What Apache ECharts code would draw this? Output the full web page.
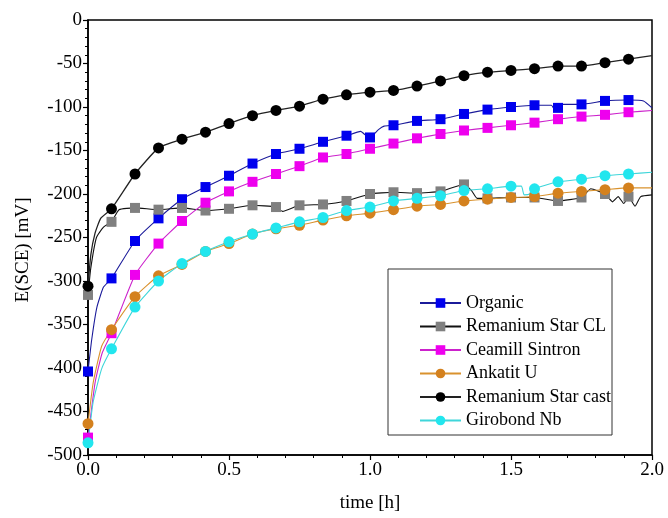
<!DOCTYPE html>
<html>
<head>
<meta charset="utf-8">
<script src="https://cdn.jsdelivr.net/npm/echarts@6/dist/echarts.min.js"></script>
<style>
  html, body { margin: 0; padding: 0; background: #fff; }
  #chart { width: 668px; height: 518px; }
</style>
</head>
<body>
<div id="chart"></div>
<script>
// Open-circuit potential vs SCE, sampled every 5 minutes (markers).
const markerMinutes = [0, 5, 10, 15, 20, 25, 30, 35, 40, 45, 50, 55,
                       60, 65, 70, 75, 80, 85, 90, 95, 100, 105, 110, 115];

const organic = [-404, -297, -254, -228, -206, -192, -179, -165, -154, -148, -140, -133,
                 -135, -121, -116, -114, -108, -103, -100, -98, -101, -97, -93, -92];
const remaniumCL = [-316, -232, -216, -218, -216, -219, -217, -213, -215, -213, -212, -208,
                    -200, -198, -199, -197, -189, -205, -204, -204, -208, -204, -200, -203];
const ceamill = [-480, -360, -293, -257, -231, -210, -197, -186, -177, -168, -158, -154,
                 -148, -142, -136, -131, -127, -124, -121, -118, -114, -111, -109, -106];
const ankatit = [-464, -356, -318, -294, -281, -266, -257, -246, -240, -236, -230, -225,
                 -222, -218, -214, -212, -208, -206, -204, -203, -199, -197, -195, -193];
const remaniumCast = [-306, -217, -177, -147, -137, -129, -119, -110, -104, -99, -91, -86,
                      -83, -81, -76, -70, -64, -60, -58, -56, -53, -53, -49, -45];
const girobond = [-486, -378, -330, -300, -280, -266, -255, -246, -239, -232, -227, -219,
                  -215, -208, -205, -202, -196, -194, -191, -194, -186, -183, -179, -177];

// Recorded trace points between markers: [minute, mV]
const organicTrace = [[0.8, -367], [1.9, -330], [3.3, -307], [58, -128], [59.4, -134],
                      [61.8, -126], [63, -122], [98.6, -98], [99.3, -103], [101, -97],
                      [118.2, -93], [120, -101]];
const remaniumCLTrace = [[0.6, -285], [1.8, -250], [3.3, -238], [6.6, -218], [41.4, -220],
                         [81.6, -196], [82.8, -205], [107, -194], [111.6, -209], [112.8, -203],
                         [114, -211], [116.4, -214], [117.6, -203], [120, -201]];
const ceamillTrace = [[1.5, -417], [3, -383], [120, -104]];
const ankatitTrace = [[1.1, -417], [2.9, -375], [120, -193]];
const remaniumCastTrace = [[0.6, -270], [1.5, -245], [2.7, -228], [120, -41]];
const girobondTrace = [[1.1, -439], [2.9, -401], [92.2, -191], [92.8, -201], [94, -200], [120, -175]];

const xTicks = { min: 0, max: 2, interval: 0.5 };
const yTicks = { min: -500, max: 0, interval: 50 };

// Merge marker samples and trace points into one time-ordered series (hours)
function buildSeriesData(values, trace) {
  const pts = markerMinutes.map((m, i) => ({ value: [m / 60, values[i]], marker: true }));
  trace.forEach(p => pts.push({ value: [p[0] / 60, p[1]], marker: false }));
  pts.sort((a, b) => a.value[0] - b.value[0]);
  return pts.map(p => p.marker ? { value: p.value }
                               : { value: p.value, symbol: 'none' });
}

const serif = '"Liberation Serif", "DejaVu Serif", serif';

function makeSeries(name, values, trace, symbol, size, markerColor, lineColor, lineWidth) {
  return {
    name: name,
    type: 'line',
    data: buildSeriesData(values, trace),
    symbol: symbol,
    symbolSize: size,
    showAllSymbol: true,
    smooth: 0.15,
    itemStyle: { color: markerColor, borderWidth: 0 },
    lineStyle: { color: lineColor, width: lineWidth },
    emphasis: { disabled: true },
    animation: false
  };
}

const chart = echarts.init(document.getElementById('chart'), null, { renderer: 'canvas' });

chart.setOption({
  backgroundColor: '#ffffff',
  animation: false,
  grid: {
    left: 88, top: 20, right: 16, bottom: 58,
    show: true, borderColor: '#000', borderWidth: 1.5, backgroundColor: 'transparent'
  },
  xAxis: {
    type: 'value',
    min: xTicks.min, max: xTicks.max, interval: xTicks.interval,
    name: 'time [h]',
    nameLocation: 'middle',
    nameGap: 39,
    nameTextStyle: { fontFamily: serif, fontSize: 19, color: '#000' },
    axisLine: { show: true, onZero: false, lineStyle: { color: '#000', width: 1.5 } },
    axisTick: { show: true, inside: false, length: 5, lineStyle: { color: '#000', width: 1.2 } },
    minorTick: { show: true, splitNumber: 5, length: 3, lineStyle: { color: '#000', width: 1 } },
    splitLine: { show: false },
    axisLabel: {
      fontFamily: serif, fontSize: 19, color: '#000', margin: 6,
      formatter: v => v.toFixed(1)
    }
  },
  yAxis: {
    type: 'value',
    min: yTicks.min, max: yTicks.max, interval: yTicks.interval,
    axisLine: { show: true, onZero: false, lineStyle: { color: '#000', width: 1.5 } },
    axisTick: { show: true, inside: false, length: 5, lineStyle: { color: '#000', width: 1.2 } },
    minorTick: { show: true, splitNumber: 5, length: 3, lineStyle: { color: '#000', width: 1 } },
    splitLine: { show: false },
    axisLabel: { fontFamily: serif, fontSize: 19, color: '#000', margin: 6 }
  },
  legend: {
    orient: 'vertical',
    left: 419,
    top: 294,
    padding: 0,
    itemWidth: 41,
    itemHeight: 12,
    itemGap: 5.5,
    selectedMode: false,
    textStyle: { fontFamily: serif, fontSize: 18, color: '#000', lineHeight: 18 },
    data: ['Organic', 'Remanium Star CL', 'Ceamill Sintron', 'Ankatit U',
           'Remanium Star cast', 'Girobond Nb']
  },
  graphic: [
    {
      type: 'rect',
      shape: { x: 388, y: 269, width: 224, height: 166 },
      style: { fill: 'none', stroke: '#333', lineWidth: 1 },
      z: 1
    },
    {
      type: 'text',
      x: 23, y: 250,
      rotation: Math.PI / 2,
      style: {
        text: 'E(SCE) [mV]',
        font: '19px ' + serif,
        fill: '#000',
        align: 'center',
        verticalAlign: 'middle'
      }
    }
  ],
  series: [
    makeSeries('Organic', organic, organicTrace, 'rect', 10, '#0000ee', '#1b1b9a', 1.1),
    makeSeries('Remanium Star CL', remaniumCL, remaniumCLTrace, 'rect', 10, '#808080', '#111111', 1.1),
    makeSeries('Ceamill Sintron', ceamill, ceamillTrace, 'rect', 10, '#ee00ee', '#cc22cc', 1.1),
    makeSeries('Ankatit U', ankatit, ankatitTrace, 'circle', 11, '#d4811e', '#d9922e', 1.1),
    makeSeries('Remanium Star cast', remaniumCast, remaniumCastTrace, 'circle', 11, '#000000', '#222222', 1.3),
    makeSeries('Girobond Nb', girobond, girobondTrace, 'circle', 11, '#22e6ee', '#3fd6da', 1.1)
  ]
});
</script>
</body>
</html>
